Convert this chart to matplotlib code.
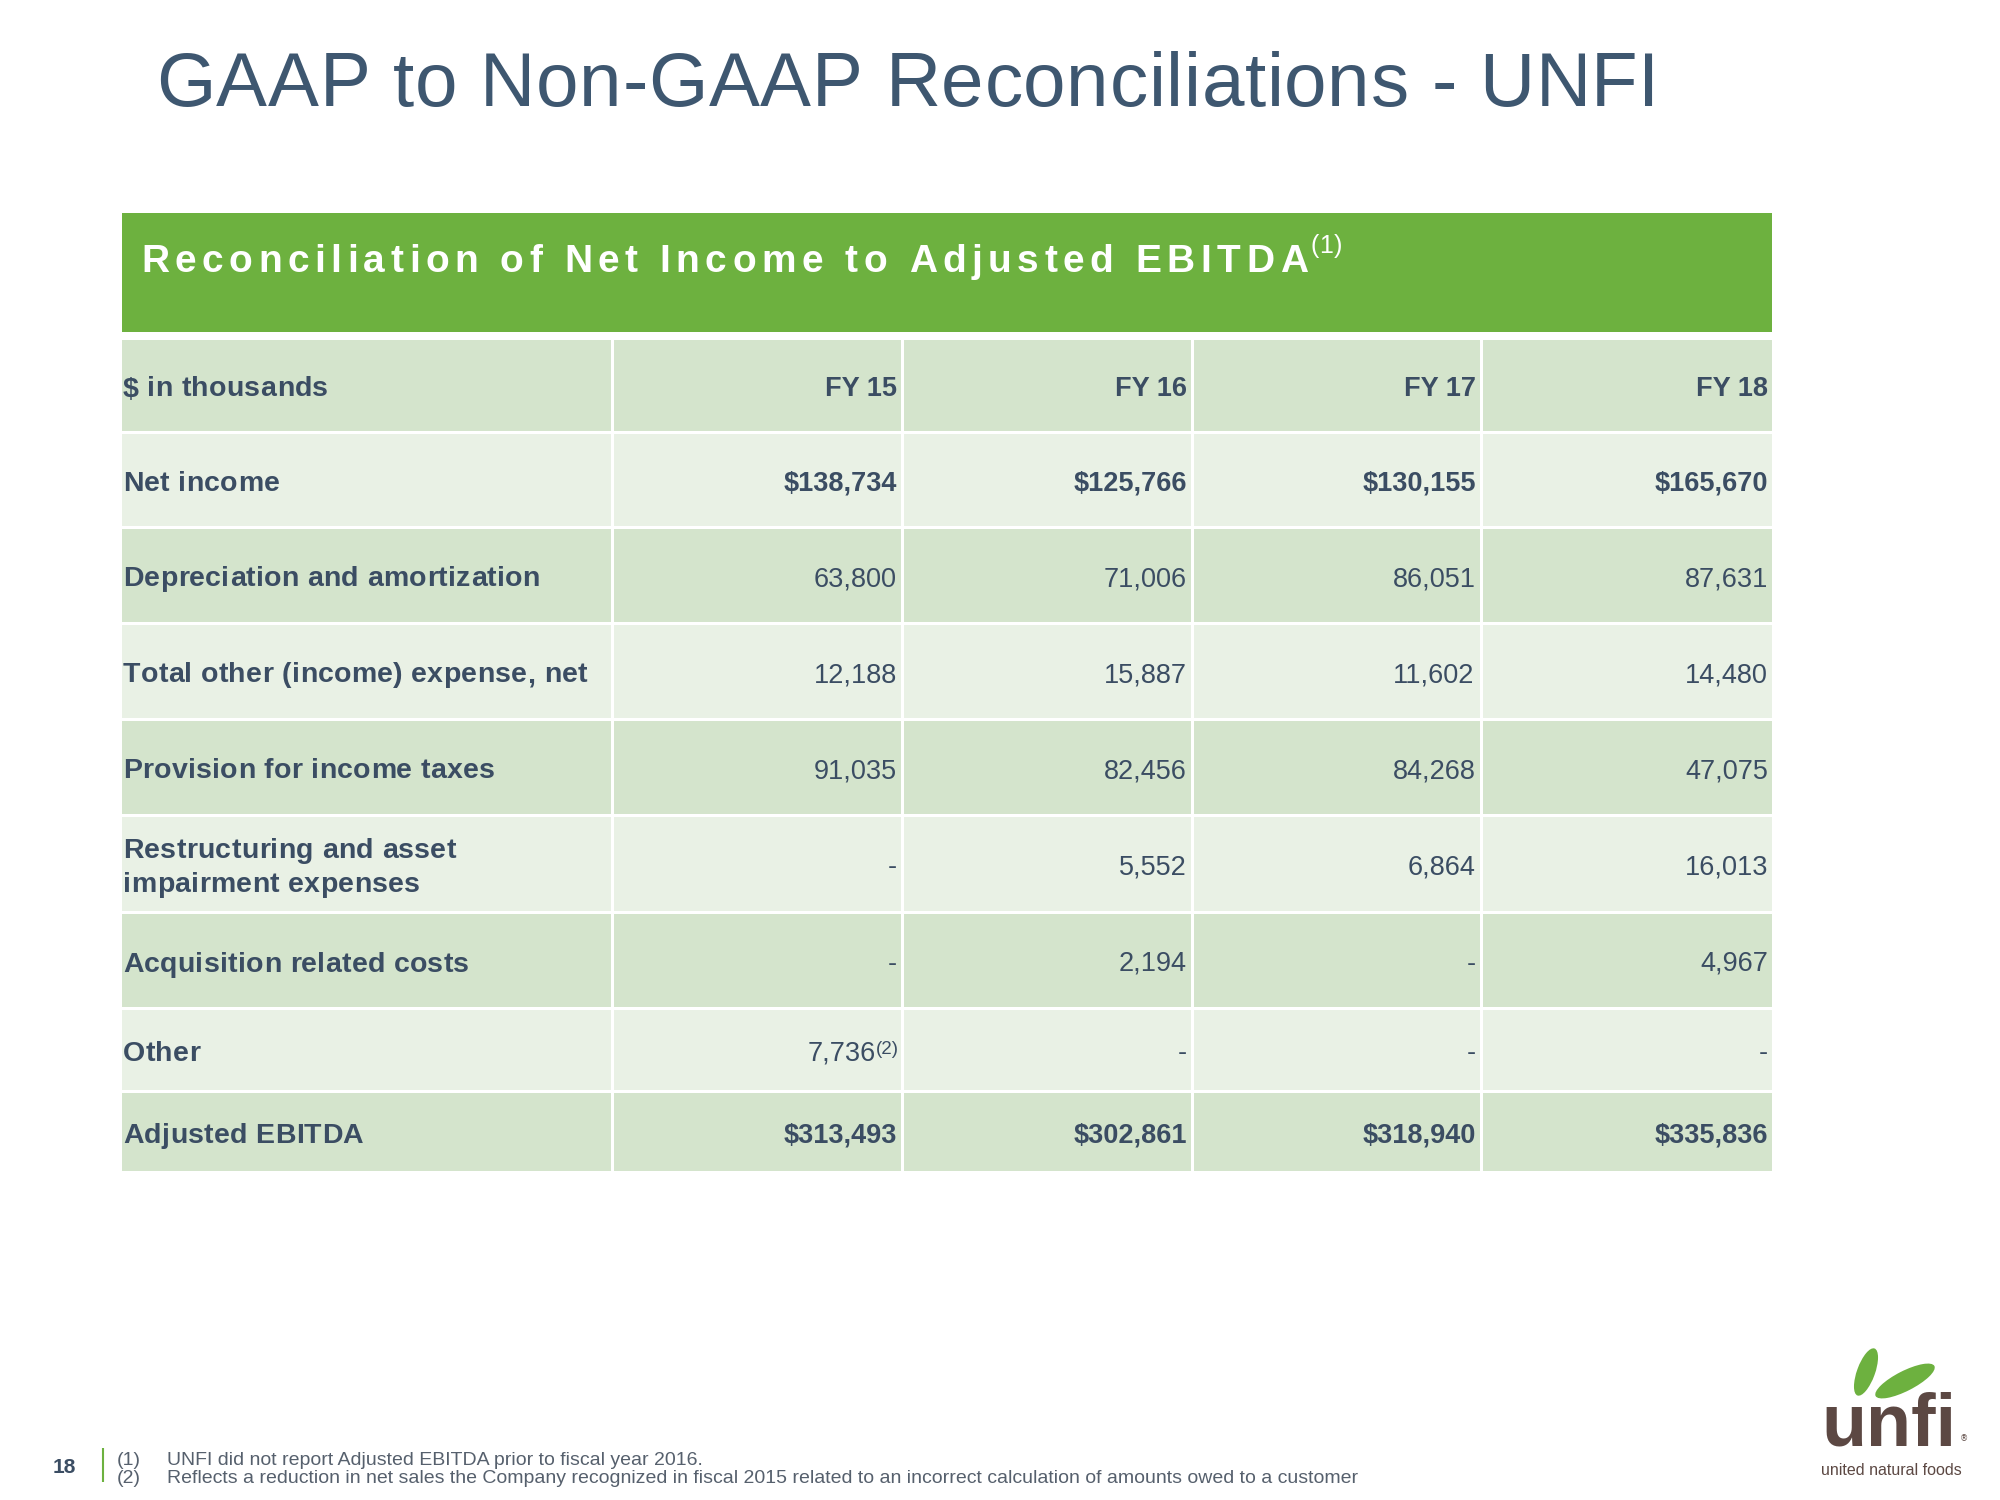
import matplotlib
matplotlib.use("Agg")
import matplotlib.pyplot as plt
from matplotlib import font_manager as fm
from matplotlib.patches import Rectangle, Ellipse

# ---- content ----
title = "GAAP to Non-GAAP Reconciliations - UNFI"
table_title = "Reconciliation of Net Income to Adjusted EBITDA"
table_title_note = "(1)"
unit_label = "$ in thousands"
years = ["FY 15", "FY 16", "FY 17", "FY 18"]
row_labels = [
    "Net income",
    "Depreciation and amortization",
    "Total other (income) expense, net",
    "Provision for income taxes",
    "Restructuring and asset\nimpairment expenses",
    "Acquisition related costs",
    "Other",
    "Adjusted EBITDA",
]
net_income = [138734, 125766, 130155, 165670]
depreciation = [63800, 71006, 86051, 87631]
other_expense = [12188, 15887, 11602, 14480]
income_taxes = [91035, 82456, 84268, 47075]
restructuring = [None, 5552, 6864, 16013]
acquisition = [None, 2194, None, 4967]
other = [7736, None, None, None]
adjusted_ebitda = [313493, 302861, 318940, 335836]
rows = [net_income, depreciation, other_expense, income_taxes,
        restructuring, acquisition, other, adjusted_ebitda]
dollar_rows = ["Net income", "Adjusted EBITDA"]
cell_notes = {("Other", 0): "(2)"}
footnotes = [
    ("(1)", "UNFI did not report Adjusted EBITDA prior to fiscal year 2016."),
    ("(2)", "Reflects a reduction in net sales the Company recognized in fiscal 2015 "
            "related to an incorrect calculation of amounts owed to a customer"),
]
page = "18"

# ---- style ----
TITLE_C = "#3e5770"
TEXT_C = "#3b4d63"
NOTE_C = "#56606d"
GREEN = "#6db13f"
DARK_ROW = "#d4e4cc"
LIGHT_ROW = "#e9f1e5"
BROWN = "#5c4843"
FONT = "Liberation Sans"
DPI = 100


def put(ax, x, y, s, size, track=0.0, weight="normal", color=TEXT_C, ha="left"):
    # text with optional letter spacing; returns its left/right x
    prop = fm.FontProperties(family=FONT, weight=weight, size=size)
    font = fm.get_font(fm.findfont(prop))
    font.set_size(size, DPI)
    adv = [font.load_char(ord(c)).linearHoriAdvance / 65536 for c in s]
    width = sum(adv) + track * (len(s) - 1)
    x0 = x - width if ha == "right" else x
    if track == 0:
        ax.text(x0, y, s, fontproperties=prop, color=color, ha="left", va="baseline")
        return x0, x0 + width
    pos = x0
    for c, a in zip(s, adv):
        if not c.isspace():
            ax.text(pos, y, c, fontproperties=prop, color=color, ha="left", va="baseline")
        pos += a + track
    return x0, x0 + width


fig = plt.figure(figsize=(20, 15), dpi=DPI)
ax = fig.add_axes([0, 0, 1, 1])
ax.set_xlim(0, 2000)
ax.set_ylim(1500, 0)
ax.axis("off")

put(ax, 156, 106, title, 55, track=0.7, color=TITLE_C)

# green banner
ax.add_patch(Rectangle((122, 213), 1650, 119, color=GREEN, lw=0))
_, end = put(ax, 141, 272, table_title, 28, track=5.5, weight="bold", color="white")
put(ax, end + 3, 253, table_title_note, 18, track=0.5, color="white")

# table grid
col_edges = [122, 614, 904, 1194, 1483, 1775]
row_edges = [340, 434, 529, 625, 721, 817, 914, 1010, 1093, 1174]
gap = 3
for i in range(len(row_edges) - 1):
    face = DARK_ROW if i % 2 == 0 else LIGHT_ROW
    for j in range(len(col_edges) - 1):
        ax.add_patch(Rectangle((col_edges[j], row_edges[i]),
                               col_edges[j + 1] - col_edges[j] - gap,
                               row_edges[i + 1] - row_edges[i] - gap, color=face, lw=0))


def row_mid(i):
    return (row_edges[i] + row_edges[i + 1] - gap) / 2


LABEL_PT = 20.5
VALUE_PT = 19.5

# header row
base = row_mid(0) + 11
put(ax, 123, base, unit_label, LABEL_PT, track=0.3, weight="bold")
for j, yr in enumerate(years):
    put(ax, col_edges[j + 2] - gap - 4, base, yr, VALUE_PT, weight="bold", ha="right")

# body rows
for i, (label, vals) in enumerate(zip(row_labels, rows), start=1):
    mid = row_mid(i)
    lines = label.split("\n")
    for k, line in enumerate(lines):
        put(ax, 123, mid + 11 + (k - (len(lines) - 1) / 2) * 35, line, LABEL_PT,
            track=0.3, weight="bold")
    bold = label in dollar_rows
    for j, v in enumerate(vals):
        right = col_edges[j + 2] - gap - 4
        txt = "-" if v is None else ("$" if bold else "") + f"{v:,}"
        note = cell_notes.get((label, j))
        if note:
            # superscript flush with the column edge, value just left of it
            x0, _ = put(ax, right + 2, mid + 4, note, 13.5, ha="right")
            right = x0 - 1
        put(ax, right, mid + 10.5, txt, VALUE_PT,
            weight="bold" if bold else "normal", ha="right")

# footer
put(ax, 53, 1473, page, 15, weight="bold")
ax.plot([103, 103], [1448, 1482], color=GREEN, lw=1.5, solid_capstyle="butt")
for k, (mark, text) in enumerate(footnotes):
    y = 1465 + k * 18
    put(ax, 117, y, mark, 14, color=NOTE_C)
    put(ax, 167, y, text, 14, color=NOTE_C)

# logo
ax.add_patch(Ellipse((1866, 1372), 50, 18, angle=-70, color=GREEN, lw=0))
ax.add_patch(Ellipse((1905, 1381), 66, 20, angle=-27, color=GREEN, lw=0))
put(ax, 1821, 1445, "unfi", 53, weight="bold", color=BROWN)
ax.text(1960, 1441, "\u00ae", fontsize=6, color=BROWN, ha="left", va="baseline")
put(ax, 1821, 1475, "united natural foods", 11.5, color=BROWN)

fig.savefig("out.png", dpi=DPI)
